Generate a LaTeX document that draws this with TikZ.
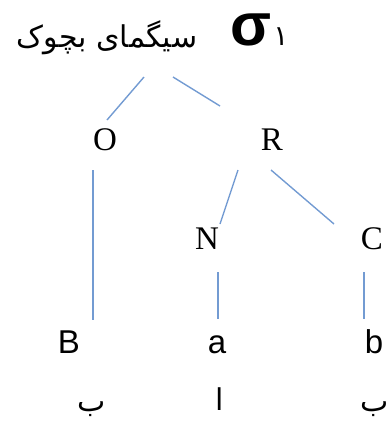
\documentclass[tikz,border=0pt]{standalone}
\usepackage{fontspec}
\setmainfont{Liberation Serif}
\newfontfamily\arialfont{Liberation Sans}
\newfontfamily\arabicfont[Script=Arabic]{DejaVu Sans}
\TeXXeTstate=1
\definecolor{branch}{RGB}{115,155,210}
\begin{document}
\begin{tikzpicture}[x=1pt,y=-1pt,
  branchline/.style={draw=branch,line width=1.4pt},
  serifletter/.style={inner sep=0pt,anchor=base,font=\fontsize{33}{33}\selectfont},
  sansletter/.style={inner sep=0pt,anchor=base,font=\arialfont\fontsize{33}{33}\selectfont},
  farsi/.style={inner sep=0pt,font=\arabicfont\fontsize{30}{30}\selectfont}]
\useasboundingbox (0,0) rectangle (390,421);
% heading
\node[farsi] (title) at (107,38) {\beginR سیگمای بچوک\endR};
\node[inner sep=0pt,anchor=base,text height=34pt,text depth=0pt,
      font=\arialfont\bfseries\fontsize{60}{60}\selectfont] (sigma) at (251,45) {σ};
\node[farsi,font=\arabicfont\fontsize{28}{28}\selectfont] (one) at (281,37) {۱};
% tree labels
\node[serifletter] (O) at (105,150) {O};
\node[serifletter] (R) at (272,150) {R};
\node[serifletter] (N) at (207,249) {N};
\node[serifletter] (C) at (372,249) {C};
\node[sansletter] (B) at (69,353) {B};
\node[sansletter] (a) at (217,353) {a};
\node[sansletter] (b) at (374,353) {b};
\node[farsi,anchor=base] (bB) at (92,411) {\beginR ب\endR};
\node[farsi,anchor=base] (aA) at (220,410) {\beginR ا\endR};
\node[farsi,anchor=base] (bb) at (375,411) {\beginR ب\endR};
% branch end points
\coordinate (s1) at (144,77);  \coordinate (o1) at (107,120);
\coordinate (s2) at (173,77);  \coordinate (r1) at (220,106);
\coordinate (o2) at (93,170);  \coordinate (b1) at (93,320);
\coordinate (r2) at (238,170); \coordinate (n1) at (220,224);
\coordinate (r3) at (271,170); \coordinate (c1) at (334,224);
\coordinate (n2) at (218,272); \coordinate (a1) at (218,319);
\coordinate (c2) at (364,272); \coordinate (b2) at (364,319);
\draw[branchline] (s1) -- (o1);
\draw[branchline] (s2) -- (r1);
\draw[branchline] (o2) -- (b1);
\draw[branchline] (r2) -- (n1);
\draw[branchline] (r3) -- (c1);
\draw[branchline] (n2) -- (a1);
\draw[branchline] (c2) -- (b2);
\end{tikzpicture}
\end{document}
